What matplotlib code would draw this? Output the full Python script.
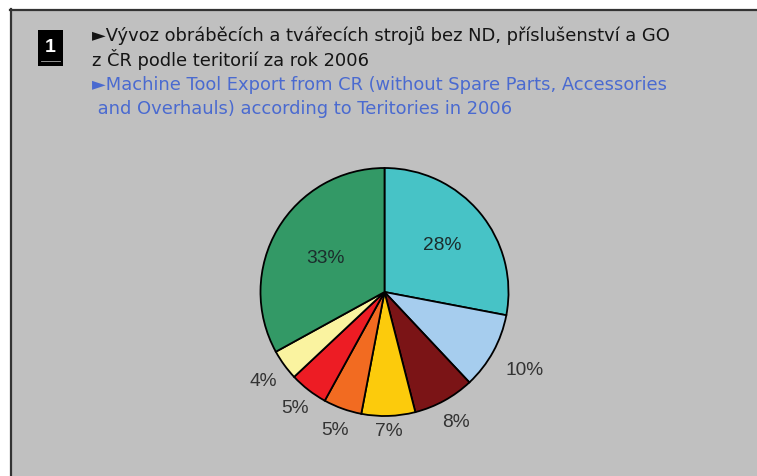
import numpy as np
import matplotlib
matplotlib.use("Agg")
import matplotlib.pyplot as plt
from matplotlib.patches import Rectangle
from matplotlib.lines import Line2D

plt.rcParams['font.family'] = ['Liberation Sans', 'DejaVu Sans']

# ---- data ----
shares = [28, 10, 8, 7, 5, 5, 4, 33]
labels = ["28%", "10%", "8%", "7%", "5%", "5%", "4%", "33%"]
colors = ["#47C3C6", "#A6CDEE", "#7B1416", "#FCCB0C", "#F26B21",
          "#ED1C24", "#FAF3A0", "#339966"]
label_dist = [0.60, 1.29, 1.19, 1.12, 1.18, 1.18, 1.21, 0.55]
title_cz = ["\u25BAVývoz obráběcích a tvářecích strojů bez ND, příslušenství a GO",
            "z ČR podle teritorií za rok 2006"]
title_en = ["\u25BAMachine Tool Export from CR (without Spare Parts, Accessories",
            " and Overhauls) according to Teritories in 2006"]

W, H = 757, 477
fig = plt.figure(figsize=(W / 100, H / 100), dpi=100)
fig.patch.set_facecolor("white")

def fx(px):
    return px / W

def fy(py):
    return 1 - py / H

# background panel
fig.patches.append(Rectangle((fx(10), 0), 1 - fx(10), fy(10), transform=fig.transFigure,
                             facecolor="#C0C0C0", edgecolor="none", zorder=-10))
fig.lines.append(Line2D([fx(10), 1], [fy(10.5), fy(10.5)], transform=fig.transFigure,
                        color="#333333", lw=1.6, zorder=-9))
fig.lines.append(Line2D([fx(10.5), fx(10.5)], [0, fy(10)], transform=fig.transFigure,
                        color="#333333", lw=1.6, zorder=-9))

# "1" icon
fig.patches.append(Rectangle((fx(38), fy(67)), fx(63) - fx(38), fy(31) - fy(67),
                             transform=fig.transFigure, facecolor="black",
                             edgecolor="none", zorder=2))
fig.text(fx(50.5), fy(47), "1", color="white", fontsize=14, fontweight="bold",
         ha="center", va="center", zorder=3)
fig.lines.append(Line2D([fx(41), fx(60)], [fy(62), fy(62)], transform=fig.transFigure,
                        color="#aaaaaa", lw=0.6, zorder=3))

# titles
tfont = ['DejaVu Sans']
ys = [35, 60, 85, 109]
for i, t in enumerate(title_cz):
    fig.text(fx(92), fy(ys[i]), t, color="#151515", fontsize=12.9, family=tfont,
             ha="left", va="center")
for i, t in enumerate(title_en):
    fig.text(fx(92), fy(ys[i + 2]), t, color="#4A6AD0", fontsize=12.9, family=tfont,
             ha="left", va="center")

# pie
cx, cy, r = 384.5, 293, 124
ax = fig.add_axes([fx(cx - r), fy(cy + r), 2 * r / W, 2 * r / H])
ax.set_facecolor("none")
wedges, _ = ax.pie(shares, colors=colors, startangle=90, counterclock=False,
                   radius=1, wedgeprops=dict(edgecolor="black", linewidth=1.3))
ax.set_xlim(-1, 1)
ax.set_ylim(-1, 1)
ax.set_aspect("auto")
ax.axis("off")

for w, lab, d in zip(wedges, labels, label_dist):
    mid = np.deg2rad((w.theta1 + w.theta2) / 2)
    col = "#1B2C2C" if d < 1 else "#333333"
    ax.text(d * np.cos(mid), d * np.sin(mid), lab, ha="center", va="center",
            fontsize=13.8, color=col, clip_on=False)

fig.savefig("out.png", dpi=100, facecolor="white")
